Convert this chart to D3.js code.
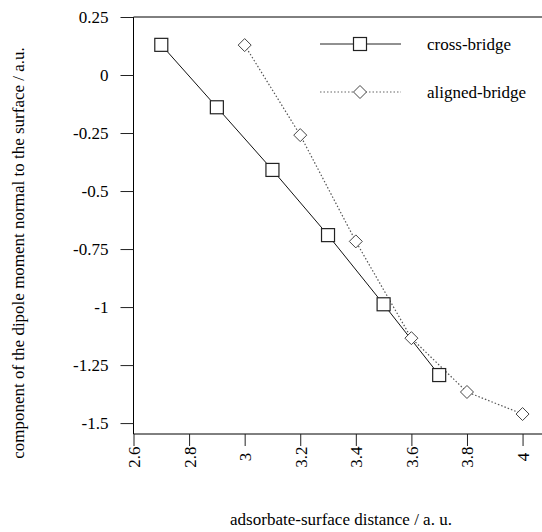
<!DOCTYPE html>
<html><head><meta charset="utf-8">
<script src="https://cdn.jsdelivr.net/npm/d3@7"></script>
<style>
body{margin:0;background:#fff;}
svg{display:block;}
svg text{font-family:"Times New Roman","Liberation Serif",serif !important;}
</style>
</head>
<body><svg id="c" width="542" height="532"></svg>
<script>
const crossX = [2.7, 2.9, 3.1, 3.3, 3.5, 3.7];
const crossY = [0.13, -0.139, -0.409, -0.69, -0.988, -1.293];
const alignedX = [3.0, 3.2, 3.4, 3.6, 3.8, 4.0];
const alignedY = [0.129, -0.259, -0.717, -1.134, -1.366, -1.461];
const xTicks = [2.6, 2.8, 3.0, 3.2, 3.4, 3.6, 3.8, 4.0];
const xTickLabels = ["2.6", "2.8", "3", "3.2", "3.4", "3.6", "3.8", "4"];
const yTicks = [0.25, 0, -0.25, -0.5, -0.75, -1, -1.25, -1.5];
const yTickLabels = ["0.25", "0", "-0.25", "-0.5", "-0.75", "-1", "-1.25", "-1.5"];
const seriesNames = ["cross-bridge", "aligned-bridge"];
const xTitle = "adsorbate-surface distance / a. u.";
const yTitle = "component of the dipole moment normal to the surface / a.u.";

const FONT = "Times New Roman";
const svg = d3.select("#c");
const x = d3.scaleLinear().domain([2.6, 4.07]).range([133.5, 542]);
const y = d3.scaleLinear().domain([-1.547, 0.25]).range([434, 17]);
const fs = 17;

function txt(sel){ return sel.style("font-family", FONT).attr("font-size", fs).attr("fill", "#000"); }

// Axes
const xAxis = d3.axisBottom(x).tickValues(xTicks).tickSize(12).tickFormat((d,i)=>xTickLabels[i]);
const gx = svg.append("g").attr("transform", `translate(0,${y.range()[0]})`).call(xAxis);
gx.attr("font-family", FONT).attr("font-size", fs);
gx.select(".domain").attr("stroke","#000").attr("d", `M${x.range()[0]},0H542`);
gx.selectAll(".tick line").attr("stroke","#222");
txt(gx.selectAll(".tick text"))
  .attr("text-anchor","middle").attr("dy", null)
  .attr("transform","translate(6,23) rotate(-90)").attr("x",0).attr("y",0);

const yAxis = d3.axisLeft(y).tickValues(yTicks).tickSize(13).tickPadding(12).tickFormat((d,i)=>yTickLabels[i]);
const gy = svg.append("g").attr("transform", `translate(${x.range()[0]},0)`).call(yAxis);
gy.attr("font-family", FONT).attr("font-size", fs);
gy.select(".domain").attr("stroke","#000").attr("d", `M0,${y.range()[1]}V${y.range()[0]}`);
gy.selectAll(".tick line").attr("stroke","#222");
txt(gy.selectAll(".tick text"));

// top border
svg.append("line").attr("x1", x.range()[0]).attr("x2", 542).attr("y1", y(0.25)).attr("y2", y(0.25)).attr("stroke","#000");

// Lines
const crossData = crossX.map((d,i)=>[d, crossY[i]]);
const alignedData = alignedX.map((d,i)=>[d, alignedY[i]]);
const line = d3.line().x(d=>x(d[0])).y(d=>y(d[1]));

svg.append("path").datum(alignedData).attr("d", line).attr("fill","none")
  .attr("stroke","#555").attr("stroke-width",1.2).attr("stroke-dasharray","1.5,2");
svg.append("path").datum(crossData).attr("d", line).attr("fill","none")
  .attr("stroke","#111").attr("stroke-width",1);

const sq = 13, dm = 6.5;
function square(g, cx, cy){
  g.append("rect").attr("x", cx - sq/2).attr("y", cy - sq/2).attr("width", sq).attr("height", sq)
    .attr("fill","#fff").attr("stroke","#222").attr("stroke-width",1.2);
}
function diamond(g, cx, cy){
  g.append("path").attr("d", `M${cx},${cy-dm}L${cx+dm},${cy}L${cx},${cy+dm}L${cx-dm},${cy}Z`)
    .attr("fill","#fff").attr("stroke","#444").attr("stroke-width",1);
}
const mk = svg.append("g");
alignedData.forEach(d=>diamond(mk, x(d[0]), y(d[1])));
crossData.forEach(d=>square(mk, x(d[0]), y(d[1])));

// Legend
const leg = svg.append("g");
leg.append("line").attr("x1",320).attr("x2",401).attr("y1",44).attr("y2",44).attr("stroke","#222").attr("stroke-width",1);
square(leg, 360, 44);
txt(leg.append("text")).attr("x",427).attr("y",50).text(seriesNames[0]);
leg.append("line").attr("x1",320).attr("x2",401).attr("y1",92).attr("y2",92).attr("stroke","#666").attr("stroke-width",1.2).attr("stroke-dasharray","1.5,2");
diamond(leg, 360, 92);
txt(leg.append("text")).attr("x",427).attr("y",98).text(seriesNames[1]);

// Titles
txt(svg.append("text")).attr("x",341).attr("y",525).attr("text-anchor","middle").text(xTitle);
txt(svg.append("text")).attr("transform","translate(24,253) rotate(-90)").attr("text-anchor","middle").text(yTitle);
</script></body></html>
